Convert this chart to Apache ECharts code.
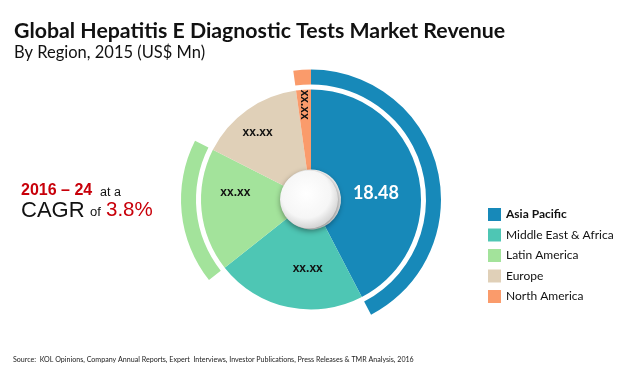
<!DOCTYPE html>
<html><head><meta charset="utf-8">
<script src="https://cdn.jsdelivr.net/npm/echarts@6/dist/echarts.min.js"></script>
<style>html,body{margin:0;padding:0;background:#fff}#c{width:620px;height:372px}</style>
</head><body><div id="c"></div>
<script>
const categories = ['Asia Pacific', 'Middle East & Africa', 'Latin America', 'Europe', 'North America'];
const values = [18.48, 9.6, 7.9, 6.7, 0.95];
const labels = ['18.48', 'xx.xx', 'xx.xx', 'xx.xx', 'xx.xx'];
const colors = ['#1789b9', '#4ec6b4', '#a3e39b', '#e0d0b8', '#fa9b6b'];
const ringShown = ['Asia Pacific', 'Latin America', 'North America'];
const titleText = 'Global Hepatitis E Diagnostic Tests Market Revenue';
const subtitleText = 'By Region, 2015 (US$ Mn)';
const sourceText = 'Source:  KOL Opinions, Company Annual Reports, Expert  Interviews, Investor Publications, Press Releases & TMR Analysis, 2016';
const cagrYears = '2016 – 24';
const cagrValue = '3.8%';

const CX = 311, CY = 199.5;
const chart = echarts.init(document.getElementById('c'), null, {renderer: 'canvas'});

const labelOffsets = [[-6, 11], [12, -2], [-3, -14], [-11, -7], [-22, 2]];
const mainData = categories.map((n, i) => {
  const d = {name: n, value: values[i], itemStyle: {color: colors[i]},
    label: {formatter: labels[i], offset: labelOffsets[i]}};
  if (i === 0) Object.assign(d.label, {color: '#fff', fontSize: 18, fontFamily: 'Lato', fontWeight: 'bold'});
  if (i === 4) Object.assign(d.label, {rotate: -90});
  return d;
});
const ringData = categories.map((n, i) => ({
  name: n, value: values[i],
  itemStyle: {color: ringShown.includes(n) ? colors[i] : 'rgba(0,0,0,0)'}
}));

const t = (text, left, top, style) => ({text, left, top, padding: 0,
  textStyle: Object.assign({fontFamily: 'Liberation Sans', fontWeight: 'normal', color: '#111'}, style)});

chart.setOption({
  animation: false,
  title: [
    t(titleText, 14, 21, {fontFamily: 'Lato', fontWeight: 'bold', fontSize: 21.3}),
    t(subtitleText, 14, 44, {fontFamily: 'Lato', fontSize: 16.5}),
    t(sourceText, 13, 356, {fontFamily: 'Lato', fontSize: 7.1, color: '#222'}),
    t(cagrYears, 21, 183, {fontWeight: 'bold', fontSize: 16, color: '#c8000a'}),
    t('at a', 100, 186, {fontSize: 12.5}),
    t('CAGR', 21, 200, {fontSize: 22}),
    t('of', 90, 206, {fontSize: 13}),
    t(cagrValue, 106, 200, {fontSize: 20.5, color: '#c8000a'})
  ],
  legend: {
    orient: 'vertical', left: 483, top: 203, icon: 'rect', itemWidth: 13, itemHeight: 13, itemGap: 7.5,
    data: categories, selectedMode: false,
    formatter: n => n === 'Asia Pacific' ? '{b|' + n + '}' : n,
    textStyle: {fontFamily: 'Lato', fontSize: 12, color: '#111', rich: {b: {fontFamily: 'Lato', fontWeight: 'bold', fontSize: 12, color: '#111'}}}
  },
  series: [
    {type: 'pie', center: [CX, CY], radius: [30, 110], startAngle: 90, clockwise: true, silent: true,
      label: {position: 'inside', fontFamily: 'Liberation Sans', fontWeight: 'bold', fontSize: 12, color: '#111'},
      labelLine: {show: false}, data: mainData, z: 2},
    {type: 'pie', center: [CX, CY], radius: [115, 130], startAngle: 90, clockwise: true, silent: true,
      label: {show: false}, labelLine: {show: false}, data: ringData, legendHoverLink: false, z: 1},
    {type: 'pie', center: [CX - 2, CY], radius: [0, 29], silent: true, label: {show: false}, labelLine: {show: false},
      itemStyle: {color: {type: 'radial', x: 0.45, y: 0.4, r: 0.6, colorStops: [{offset: 0, color: '#ffffff'}, {offset: 0.7, color: '#f6f6f6'}, {offset: 1, color: '#d4d4d4'}]},
        shadowBlur: 6, shadowColor: 'rgba(0,0,0,0.5)', shadowOffsetX: 1, shadowOffsetY: 2},
      data: [{name: 'center', value: 1}], z: 5}
  ]
});
</script></body></html>
